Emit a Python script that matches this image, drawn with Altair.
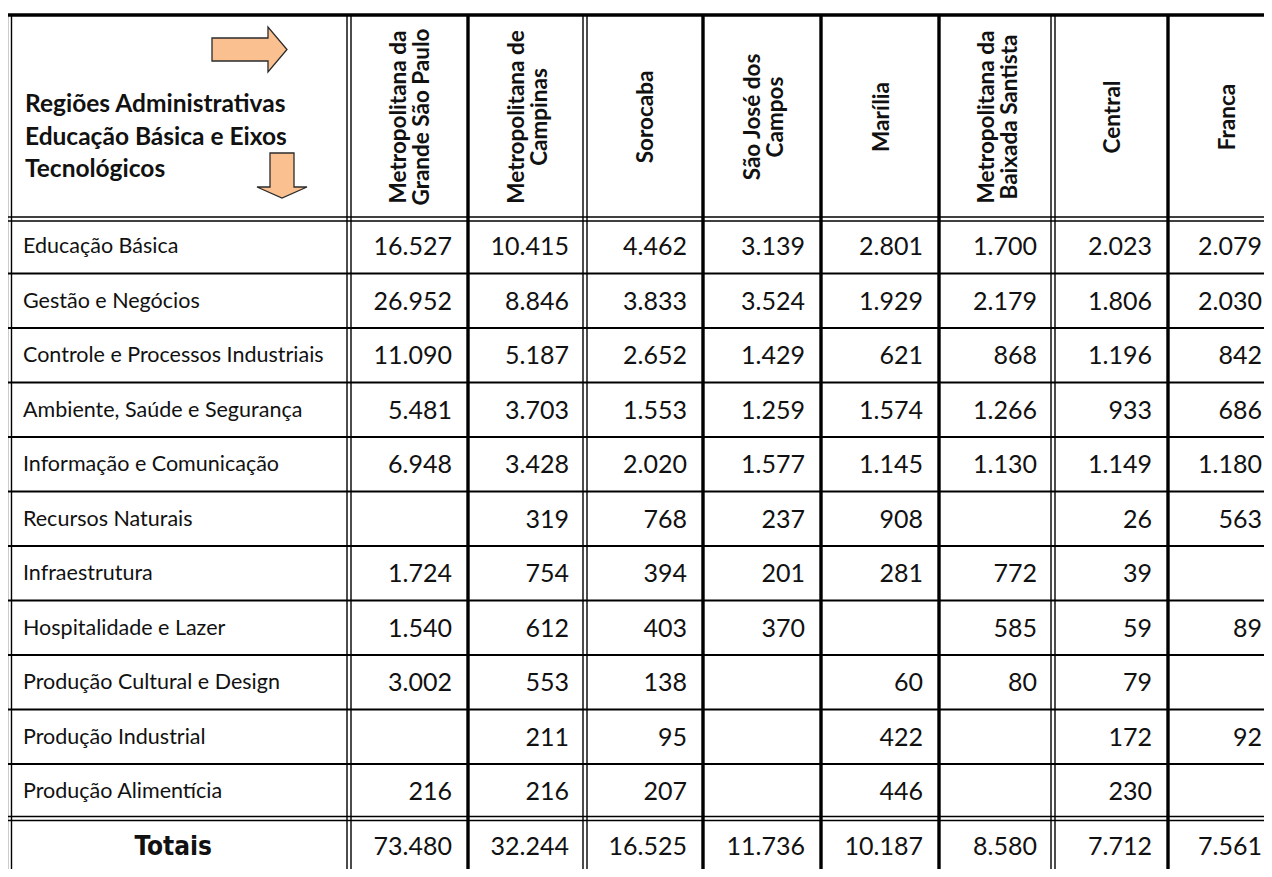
import altair as alt
import pandas as pd

# ---------------- data ----------------
region_lines = [
    ["Metropolitana da", "Grande São Paulo"],
    ["Metropolitana de", "Campinas"],
    ["Sorocaba"],
    ["São José dos", "Campos"],
    ["Marília"],
    ["Metropolitana da", "Baixada Santista"],
    ["Central"],
    ["Franca"],
]
eixos = [
    "Educação Básica",
    "Gestão e Negócios",
    "Controle e Processos Industriais",
    "Ambiente, Saúde e Segurança",
    "Informação e Comunicação",
    "Recursos Naturais",
    "Infraestrutura",
    "Hospitalidade e Lazer",
    "Produção Cultural e Design",
    "Produção Industrial",
    "Produção Alimentícia",
]
grande_sao_paulo = [16527, 26952, 11090, 5481, 6948, None, 1724, 1540, 3002, None, 216]
campinas = [10415, 8846, 5187, 3703, 3428, 319, 754, 612, 553, 211, 216]
sorocaba = [4462, 3833, 2652, 1553, 2020, 768, 394, 403, 138, 95, 207]
sao_jose = [3139, 3524, 1429, 1259, 1577, 237, 201, 370, None, None, None]
marilia = [2801, 1929, 621, 1574, 1145, 908, 281, None, 60, 422, 446]
baixada = [1700, 2179, 868, 1266, 1130, None, 772, 585, 80, None, None]
central = [2023, 1806, 1196, 933, 1149, 26, 39, 59, 79, 172, 230]
franca = [2079, 2030, 842, 686, 1180, 563, None, 89, None, 92, None]
totais = [73480, 32244, 16525, 11736, 10187, 8580, 7712, 7561]
header_title = ["Regiões Administrativas", "Educação Básica e Eixos", "Tecnológicos"]
totals_label = "Totais"

columns = [grande_sao_paulo, campinas, sorocaba, sao_jose, marilia, baixada, central, franca]

# ---------------- layout (page pixels) ----------------
X_LEFT = 9.5
col_edges = [349, 468, 585, 703, 821, 939, 1053, 1168, 1283]
Y_TOP = 15.0
Y_HEAD = 219.0
ROW_H = 54.5
TOT_H = 57.0
X_RIGHT_END = col_edges[-1]
row_edges = [Y_HEAD + i * ROW_H for i in range(len(eixos) + 1)]
Y_BOTTOM = row_edges[-1] + TOT_H
CANVAS_RIGHT = 1262
NUM_PAD = 16
HDR_LH = 23
TITLE_LH = 32.5

FONT = "Lato"
INK = "#111111"


def fmt(v):
    return f"{v:,}".replace(",", ".")


xs = alt.Scale(domain=[8, 1264], nice=False, zero=False)
ys = alt.Scale(domain=[8, 869], nice=False, zero=False, reverse=True)


def pos():
    return dict(x=alt.X("x:Q", scale=xs, axis=None), y=alt.Y("y:Q", scale=ys, axis=None))

# ---------------- grid lines ----------------
rules = []
def hline(y, w):
    rules.append(dict(x=X_LEFT - 2.5, x2=X_RIGHT_END + 2, y=y, y2=y, w=w))
def vline(x, w):
    rules.append(dict(x=x, x2=x, y=Y_TOP, y2=Y_BOTTOM, w=w))

hline(Y_TOP, 3.4)
hline(Y_BOTTOM, 3.4)
for yy in (Y_HEAD, row_edges[-1]):
    hline(yy - 2, 1.4)
    hline(yy + 2, 1.4)
for yy in row_edges[1:-1]:
    hline(yy, 2.0)
for xx in (X_LEFT, col_edges[0], col_edges[2], col_edges[6]):
    vline(xx - 2, 1.4)
    vline(xx + 2, 1.4)
for i in (1, 3, 4, 5, 7, 8):
    vline(col_edges[i], 3.4)

rules_df = pd.DataFrame(rules)
grid = alt.Chart(rules_df).mark_rule(color="#000000").encode(
    x=alt.X("x:Q", scale=xs, axis=None),
    x2="x2:Q",
    y=alt.Y("y:Q", scale=ys, axis=None),
    y2="y2:Q",
    strokeWidth=alt.StrokeWidth("w:Q", scale=None),
)

# ---------------- arrows (decoration) ----------------
RIGHT_ARROW = "M-1,-0.307L0.493,-0.307L0.493,-0.6L1,0L0.493,0.6L0.493,0.307L-1,0.307Z"
DOWN_ARROW = "M-0.48,-0.9L0.48,-0.9L0.48,0.46L1,0.46L0,0.9L-1,0.46L-0.48,0.46Z"
arrow_style = dict(filled=True, fill="#FAC090", stroke="#2b2b2b", strokeWidth=1.3, opacity=1)
arr1 = alt.Chart(pd.DataFrame(dict(x=[249.5], y=[49.5]))).mark_point(
    shape=RIGHT_ARROW, size=75 * 75, **arrow_style).encode(**pos())
arr2 = alt.Chart(pd.DataFrame(dict(x=[282], y=[175.5]))).mark_point(
    shape=DOWN_ARROW, size=50 * 50, **arrow_style).encode(**pos())

# ---------------- header texts ----------------
title_df = pd.DataFrame(dict(x=[25], y=[105], t=[header_title]))
title = alt.Chart(title_df).mark_text(
    align="left", baseline="middle", font=FONT, fontWeight="bold", fontSize=24.5,
    lineHeight=TITLE_LH, color=INK).encode(text="t", **pos())

hdr_df = pd.DataFrame(dict(
    x=[(col_edges[i] + col_edges[i + 1]) / 2 + 2 - (len(region_lines[i]) - 1) * HDR_LH / 2
       for i in range(8)],
    y=[(Y_TOP + Y_HEAD) / 2] * 8,
    t=region_lines))
hdr = alt.Chart(hdr_df).mark_text(
    angle=270, align="center", baseline="middle", font=FONT, fontWeight="bold",
    fontSize=22.5, lineHeight=HDR_LH, color=INK).encode(text="t", **pos())

# ---------------- body ----------------
row_centers = [(row_edges[i] + row_edges[i + 1]) / 2 + 1 for i in range(len(eixos))]
lab_df = pd.DataFrame(dict(x=[23] * len(eixos), y=row_centers, t=eixos))
labels = alt.Chart(lab_df).mark_text(
    align="left", baseline="middle", font=FONT, fontSize=21.5, color=INK).encode(
    text="t", **pos())

cells = []
for ci, col in enumerate(columns):
    xr = min(col_edges[ci + 1] - NUM_PAD, CANVAS_RIGHT)
    for ri, v in enumerate(col):
        if v is None:
            continue
        cells.append(dict(x=xr, y=row_centers[ri], t=fmt(v)))
tot_y = (row_edges[-1] + Y_BOTTOM) / 2
for ci, v in enumerate(totais):
    xr = min(col_edges[ci + 1] - NUM_PAD, CANVAS_RIGHT)
    cells.append(dict(x=xr, y=tot_y, t=fmt(v)))
cell_df = pd.DataFrame(cells)
nums = alt.Chart(cell_df).mark_text(
    align="right", baseline="middle", font=FONT, fontSize=25, color=INK).encode(
    text="t", **pos())

tot_df = pd.DataFrame(dict(x=[(X_LEFT + col_edges[0]) / 2 - 6], y=[tot_y], t=[totals_label]))
tot = alt.Chart(tot_df).mark_text(
    align="center", baseline="middle",
    font="Liberation Sans Narrow, DejaVu Sans Condensed, Roboto",
    fontWeight="bold", fontSize=26, color=INK).encode(text="t", **pos())

chart = alt.layer(arr1, arr2, title, hdr, labels, nums, tot, grid).properties(
    width=1256, height=861, padding=0,
    autosize=alt.AutoSizeParams(type="none"),
).configure_view(stroke=None)

chart.save("out.html", embed_options={"renderer": "svg", "actions": False})
